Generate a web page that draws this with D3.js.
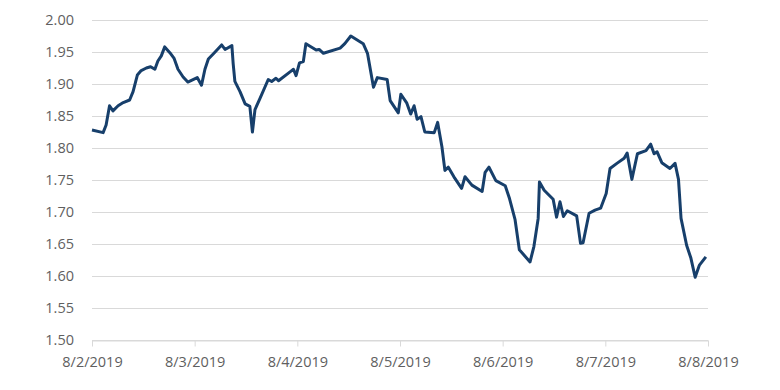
<!DOCTYPE html>
<html>
<head>
<meta charset="utf-8">
<script src="https://cdn.jsdelivr.net/npm/d3@7"></script>
<style>
  body { margin: 0; background: #fff; }
  .tick text { font-family: "Open Sans", sans-serif; font-size: 14.5px; fill: #5f5f5f; }
</style>
</head>
<body>
<div id="chart"></div>
<script>
// hours since 8/2/2019 00:00 and the matching values
let hours = [0, 2.6, 3.3, 4.1, 4.9, 6.1, 7.3, 8.8, 9.6, 10.6, 11.5, 12.7, 13.7, 14.7, 15.4, 16.2, 17.0, 18.2, 19.2, 20.1,
  21.3, 22.4, 24.6, 25.6, 26.4, 27.2, 28.5, 30.3, 31.1, 32.7, 33.0, 33.4, 34.6, 35.8, 36.9, 37.5, 38.1, 39.3, 41.2, 42.0,
  43.0, 43.6, 46.3, 47.1, 47.7, 48.5, 49.4, 50.0, 52.4, 53.1, 54.1, 58.0, 59.1, 60.5, 63.4, 64.4, 65.8, 66.7, 69.0, 69.7,
  71.6, 72.2, 73.6, 74.5, 75.3, 76.0, 76.9, 77.8, 80.0, 80.8, 81.8, 82.5, 83.3, 84.6, 86.4, 87.2, 88.8, 91.2, 91.9, 92.8,
  94.4, 96.6, 97.6, 98.9, 99.9, 102.4, 103.3, 104.3, 104.6, 105.7, 107.8, 108.6, 109.4, 110.2, 111.1, 113.3, 114.2, 114.8, 116.2, 117.6,
  118.9, 120.2, 121.1, 122.7, 124.4, 125.1, 126.2, 127.5, 129.5, 130.6, 131.4, 132.1, 133.2, 135.1, 136.3, 137.1, 137.7, 139.0, 140.0, 141.0,
  142.0, 143.5];
let values = [1.828, 1.824, 1.836, 1.866, 1.858, 1.866, 1.871, 1.875, 1.888, 1.914, 1.921, 1.925, 1.927, 1.923, 1.936, 1.944, 1.958, 1.949, 1.940, 1.923,
  1.911, 1.903, 1.910, 1.898, 1.923, 1.939, 1.948, 1.961, 1.954, 1.960, 1.932, 1.904, 1.888, 1.869, 1.865, 1.825, 1.860, 1.878, 1.907, 1.904,
  1.909, 1.905, 1.919, 1.923, 1.913, 1.933, 1.935, 1.963, 1.953, 1.954, 1.948, 1.956, 1.963, 1.975, 1.963, 1.948, 1.895, 1.910, 1.907, 1.874,
  1.855, 1.884, 1.870, 1.853, 1.866, 1.845, 1.849, 1.825, 1.824, 1.840, 1.802, 1.765, 1.770, 1.755, 1.737, 1.755, 1.742, 1.732, 1.762, 1.770,
  1.749, 1.741, 1.721, 1.688, 1.641, 1.622, 1.646, 1.690, 1.747, 1.734, 1.720, 1.692, 1.716, 1.693, 1.702, 1.694, 1.651, 1.652, 1.698, 1.703,
  1.706, 1.729, 1.768, 1.776, 1.784, 1.792, 1.751, 1.791, 1.796, 1.806, 1.791, 1.794, 1.777, 1.768, 1.776, 1.751, 1.690, 1.648, 1.628, 1.598,
  1.617, 1.630];
let dayLabels = ["8/2/2019", "8/3/2019", "8/4/2019", "8/5/2019", "8/6/2019", "8/7/2019", "8/8/2019"];
let yTicks = [1.50, 1.55, 1.60, 1.65, 1.70, 1.75, 1.80, 1.85, 1.90, 1.95, 2.00];

var w = 780, h = 390;
var margin = { top: 20, right: 72, bottom: 50, left: 92 };

var svg = d3.select("#chart").append("svg")
  .attr("width", w).attr("height", h);

var x = d3.scaleLinear().domain([0, 144]).range([margin.left, w - margin.right]);
var y = d3.scaleLinear().domain([1.5, 2.0]).range([h - margin.bottom, margin.top]);

// horizontal gridlines
svg.append("g")
  .selectAll("line")
  .data(yTicks)
  .enter().append("line")
  .attr("x1", margin.left)
  .attr("x2", w - margin.right)
  .attr("y1", function(d) { return Math.round(y(d)) + 0.5; })
  .attr("y2", function(d) { return Math.round(y(d)) + 0.5; })
  .attr("stroke", "#d9d9d9")
  .attr("stroke-width", 1);

// y labels
var yAxis = d3.axisLeft(y)
  .tickValues(yTicks)
  .tickFormat(d3.format(".2f"))
  .tickSize(0)
  .tickPadding(18);
svg.append("g")
  .attr("transform", "translate(" + margin.left + ",0)")
  .call(yAxis)
  .call(function(g) { g.select(".domain").remove(); });

// x axis with day ticks
var xAxis = d3.axisBottom(x)
  .tickValues(d3.range(dayLabels.length).map(function(i) { return i * 24; }))
  .tickFormat(function(d, i) { return dayLabels[i]; })
  .tickSize(6)
  .tickSizeOuter(0)
  .tickPadding(10);
var gx = svg.append("g")
  .attr("transform", "translate(0," + (Math.round(y(1.5)) + 0.5) + ")")
  .call(xAxis);
gx.select(".domain").attr("stroke", "#d9d9d9");
gx.selectAll(".tick line").attr("stroke", "#d9d9d9");

var data = hours.map(function(hh, i) { return { h: hh, v: values[i] }; });

var line = d3.line()
  .x(function(d) { return x(d.h); })
  .y(function(d) { return y(d.v); });

svg.append("path")
  .datum(data)
  .attr("d", line)
  .attr("fill", "none")
  .attr("stroke", "#173f6b")
  .attr("stroke-width", 3)
  .attr("stroke-linejoin", "round");
</script>
</body>
</html>
